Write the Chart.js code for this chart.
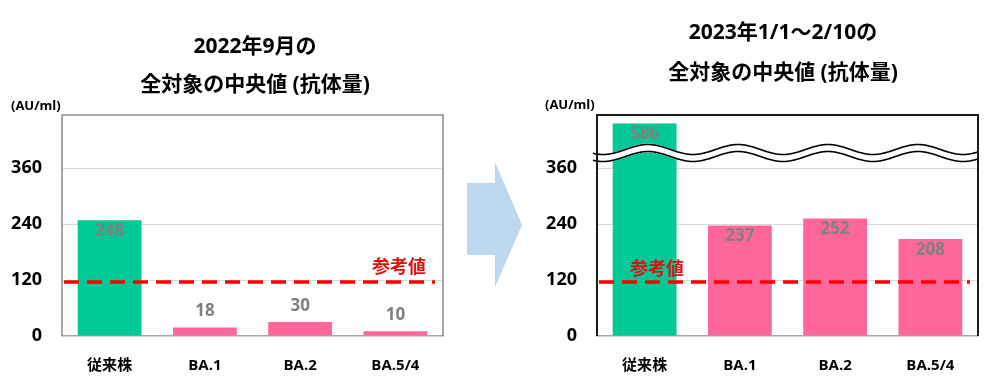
<!DOCTYPE html>
<html>
<head>
<meta charset="utf-8">
<script src="https://cdn.jsdelivr.net/npm/chart.js@4"></script>
<style>
  body { margin: 0; background: #fff; }
  .wrap { position: absolute; top: 0; }
  #arrow { position: absolute; left: 0; top: 0; }
</style>
</head>
<body>
<div class="wrap" style="left:0"><canvas id="chartSep" width="460" height="389"></canvas></div>
<svg id="arrow" width="995" height="389"><polygon points="467,183 495,183 495,162 522,225 495,287 495,255 467,255" fill="#bdd7ee"/></svg>
<div class="wrap" style="left:530px"><canvas id="chartJan" width="465" height="389"></canvas></div>
<script>
// data for both panels
const categories = ['従来株', 'BA.1', 'BA.2', 'BA.5/4'];
const sep2022 = [248, 18, 30, 10];
const jan2023 = [586, 237, 252, 208];
const yTicks = [0, 120, 240, 360];
const refValue = 116;
const barColors = ['#00c896', '#ff6699', '#ff6699', '#ff6699'];

// axis break on the right panel: values above breakAt are squeezed
const breakAt = 400;
const breakSqueeze = 0.3;
function toAxis(v) {
  return v <= breakAt ? v : breakAt + (v - breakAt) * breakSqueeze;
}

const FONT = '"Open Sans", "Noto Sans CJK JP", sans-serif';

// draws titles, unit label, reference line, value labels, frame and break
const decorations = {
  id: 'decorations',
  afterDatasetsDraw(chart) {
    const o = chart.options.plugins.decorations;
    const ctx = chart.ctx;
    const area = chart.chartArea;
    const y = chart.scales.y;
    ctx.save();

    // reference line
    const ry = y.getPixelForValue(refValue);
    ctx.strokeStyle = '#ff0000';
    ctx.lineWidth = 3.5;
    ctx.setLineDash([15, 8]);
    ctx.beginPath();
    ctx.moveTo(area.left + 2, ry);
    ctx.lineTo(area.right - 8, ry);
    ctx.stroke();
    ctx.setLineDash([]);

    // value labels
    ctx.font = 'bold 17px ' + FONT;
    ctx.fillStyle = '#808080';
    ctx.textAlign = 'center';
    ctx.textBaseline = 'middle';
    const meta = chart.getDatasetMeta(0);
    meta.data.forEach((bar, i) => {
      const v = o.values[i];
      const ly = v >= 100 ? bar.y + 11 : bar.y - 16;
      ctx.fillText(String(v), bar.x, ly);
    });

    // axis break wave
    if (o.wave) {
      const wy = y.getPixelForValue(o.waveAt);
      const x0 = area.left - 4, x1 = area.right;
      const wavePath = (off) => {
        for (let x = x0; x <= x1; x += 1) {
          const yy = wy + off - 5 * Math.cos(2 * Math.PI * (x - o.waveCrest) / 90);
          if (x === x0) ctx.moveTo(x, yy); else ctx.lineTo(x, yy);
        }
      };
      ctx.beginPath();
      wavePath(-1);
      for (let x = x1; x >= x0; x -= 1) {
        const yy = wy + 8 - 5 * Math.cos(2 * Math.PI * (x - o.waveCrest) / 90);
        ctx.lineTo(x, yy);
      }
      ctx.closePath();
      ctx.fillStyle = '#fff';
      ctx.fill();
      ctx.strokeStyle = '#000';
      ctx.lineWidth = 1.6;
      ctx.beginPath(); wavePath(0); ctx.stroke();
      ctx.beginPath(); wavePath(7); ctx.stroke();
    }

    // frame around plot
    ctx.strokeStyle = o.frameColor;
    ctx.lineWidth = o.frameWidth;
    ctx.beginPath();
    ctx.moveTo(area.left, area.bottom);
    ctx.lineTo(area.left, area.top);
    ctx.lineTo(area.right, area.top);
    ctx.lineTo(area.right, area.bottom);
    ctx.stroke();

    // reference label
    ctx.font = 'bold 18px ' + FONT;
    ctx.fillStyle = '#e01010';
    ctx.textAlign = 'left';
    ctx.fillText('参考値', o.refLabel[0], o.refLabel[1]);

    // titles
    ctx.fillStyle = '#000';
    ctx.textAlign = 'center';
    ctx.font = 'bold 21px ' + FONT;
    o.title.forEach((t, i) => ctx.fillText(t, o.titleX, o.titleY[i]));

    // unit label
    ctx.font = 'bold 13px ' + FONT;
    ctx.textAlign = 'left';
    ctx.fillText('(AU/ml)', o.unit[0], o.unit[1]);
    ctx.restore();
  }
};

function makeChart(id, values, axisWidth, deco) {
  return new Chart(document.getElementById(id), {
    type: 'bar',
    data: {
      labels: categories,
      datasets: [{
        data: values.map(toAxis),
        backgroundColor: barColors,
        barPercentage: 0.67,
        categoryPercentage: 1,
      }],
    },
    options: {
      responsive: false,
      animation: false,
      layout: { padding: { top: 115, right: 17, left: 0, bottom: 0 } },
      plugins: {
        legend: { display: false },
        tooltip: { enabled: false },
        decorations: Object.assign({ values: values }, deco),
      },
      scales: {
        x: {
          grid: { display: false },
          border: { color: '#a6a6a6', width: 1.5 },
          ticks: { color: '#000', font: { family: FONT, size: 15, weight: 'bold' }, padding: 13 },
          afterFit(s) { s.height = 53; },
        },
        y: {
          min: 0,
          max: 474,
          border: { display: false },
          grid: {
            drawTicks: false,
            color: (c) => (c.tick && c.tick.value > 0) ? '#d9d9d9' : 'rgba(0,0,0,0)',
          },
          ticks: {
            padding: 20,
            color: '#000',
            font: { family: FONT, size: 18, weight: 'bold' },
          },
          afterBuildTicks(s) { s.ticks = yTicks.map(v => ({ value: v })); },
          afterFit(s) { s.width = axisWidth; },
        },
      },
    },
    plugins: [decorations],
  });
}

makeChart('chartSep', sep2022, 62, {
  title: ['2022年9月の', '全対象の中央値 (抗体量)'],
  titleX: 255, titleY: [47, 85],
  unit: [11, 106],
  refLabel: [372, 268],
  frameColor: '#8c8c8c', frameWidth: 1.5,
  wave: false,
});

makeChart('chartJan', jan2023, 67, {
  title: ['2023年1/1〜2/10の', '全対象の中央値 (抗体量)'],
  titleX: 253, titleY: [33, 73],
  unit: [15, 105],
  refLabel: [100, 270],
  frameColor: '#1a1a1a', frameWidth: 2,
  wave: true, waveAt: 400, waveCrest: 118,
});
</script>
</body>
</html>
